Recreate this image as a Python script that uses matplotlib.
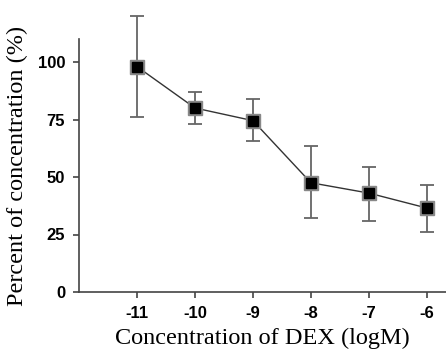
import matplotlib
matplotlib.use("Agg")
import matplotlib.pyplot as plt

x_vals = [-11, -10, -9, -8, -7, -6]
means = [98, 80, 74.5, 47.5, 43, 36.5]
err_hi = [22, 7, 9.5, 16, 11.5, 10]
err_lo = [22, 7, 9, 15.5, 12, 10.5]
xtick_labels = ["-11", "-10", "-9", "-8", "-7", "-6"]
yticks = [0, 25, 50, 75, 100]

fig = plt.figure(figsize=(4.46, 3.51), dpi=100)
ax = fig.add_axes([79/446, 59/351, (446-79)/446, (292-39)/351])

eb = ax.errorbar(x_vals, means, yerr=[err_lo, err_hi], fmt='none', ecolor='#666666',
                 elinewidth=1.3, capsize=5, capthick=1.3, zorder=2)
for art in eb.lines[1] + eb.lines[2]:
    art.set_clip_on(False)
ax.plot(x_vals, means, color='#333333', lw=1.0, zorder=3, clip_on=False)
ax.plot(x_vals, means, 's', ms=10, mfc='#888888', mec='#888888', zorder=4, clip_on=False)
ax.plot(x_vals, means, 's', ms=7, mfc='black', mec='black', zorder=5, clip_on=False)

ax.set_xlim(-12, -5.67)
ax.set_ylim(0, 110)
ax.set_xticks(x_vals)
ax.set_xticklabels(xtick_labels)
ax.set_yticks(yticks)

for s in ['top', 'right']:
    ax.spines[s].set_visible(False)
for s in ['left', 'bottom']:
    ax.spines[s].set_color('#444444')
    ax.spines[s].set_linewidth(1.2)
ax.spines['left'].set_bounds(0, 110)

ax.tick_params(direction='out', length=4, width=1.2, color='#444444', pad=6)
for lab in ax.get_xticklabels() + ax.get_yticklabels():
    lab.set_family('Liberation Sans')
    lab.set_fontweight('bold')
    lab.set_fontsize(12)

ax.set_xlabel("Concentration of DEX (logM)", family='Liberation Serif', fontsize=17.5, labelpad=5)
ax.set_ylabel("Percent of concentration (%)", family='Liberation Serif', fontsize=17.5, labelpad=7)

fig.savefig("out.png", dpi=100)
